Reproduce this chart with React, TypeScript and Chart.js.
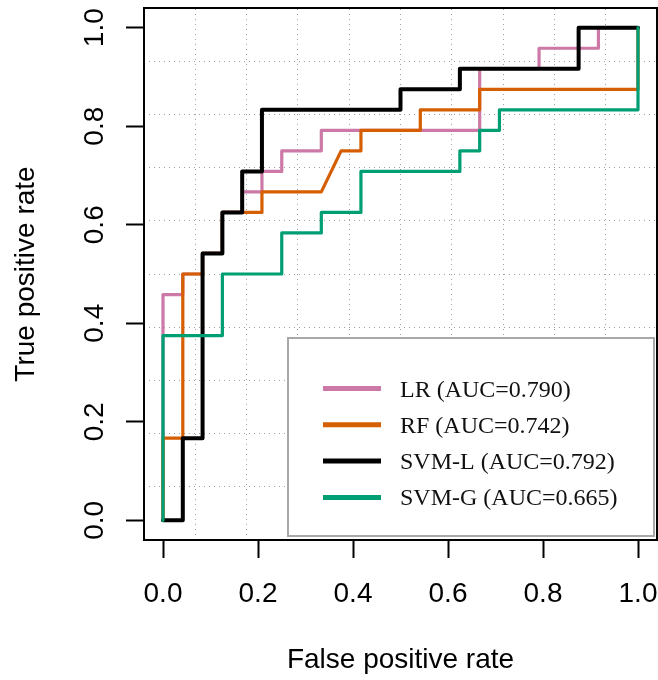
import React, { useEffect, useRef } from 'react';
import { Chart, registerables } from 'chart.js';

Chart.register(...registerables);

// ---- data ----
const tickValues = [0, 0.2, 0.4, 0.6, 0.8, 1.0];
const tickLabels = ['0.0', '0.2', '0.4', '0.6', '0.8', '1.0'];
const gridValues = [0.068, 0.176, 0.284, 0.392, 0.5, 0.608, 0.716, 0.824, 0.932];
const axisMin = -0.04;
const axisMax = 1.04;
const xTitle = 'False positive rate';
const yTitle = 'True positive rate';

const seriesNames = ['LR (AUC=0.790)', 'RF (AUC=0.742)', 'SVM-L (AUC=0.792)', 'SVM-G (AUC=0.665)'];
const seriesColors = ['#CC79A7', '#D55E00', '#000000', '#009E73'];

const lrFpr = [0, 0, 0.0417, 0.0417, 0.0833, 0.0833, 0.125, 0.125, 0.1667, 0.1667, 0.2083, 0.2083, 0.25, 0.25, 0.3333, 0.3333, 0.6667, 0.6667, 0.7917, 0.7917, 0.9167, 0.9167, 1];
const lrTpr = [0, 0.4583, 0.4583, 0.5, 0.5, 0.5417, 0.5417, 0.625, 0.625, 0.6667, 0.6667, 0.7083, 0.7083, 0.75, 0.75, 0.7917, 0.7917, 0.9167, 0.9167, 0.9583, 0.9583, 1, 1];

const rfFpr = [0, 0, 0.0417, 0.0417, 0.0833, 0.0833, 0.125, 0.125, 0.2083, 0.2083, 0.3333, 0.375, 0.4167, 0.4167, 0.5417, 0.5417, 0.6667, 0.6667, 1, 1];
const rfTpr = [0, 0.1667, 0.1667, 0.5, 0.5, 0.5417, 0.5417, 0.625, 0.625, 0.6667, 0.6667, 0.75, 0.75, 0.7917, 0.7917, 0.8333, 0.8333, 0.875, 0.875, 1];

const svmLFpr = [0, 0.0417, 0.0417, 0.0833, 0.0833, 0.125, 0.125, 0.1667, 0.1667, 0.2083, 0.2083, 0.5, 0.5, 0.625, 0.625, 0.875, 0.875, 1];
const svmLTpr = [0, 0, 0.1667, 0.1667, 0.5417, 0.5417, 0.625, 0.625, 0.7083, 0.7083, 0.8333, 0.8333, 0.875, 0.875, 0.9167, 0.9167, 1, 1];

const svmGFpr = [0, 0, 0.125, 0.125, 0.25, 0.25, 0.3333, 0.3333, 0.4167, 0.4167, 0.625, 0.625, 0.6667, 0.6667, 0.7083, 0.7083, 1, 1];
const svmGTpr = [0, 0.375, 0.375, 0.5, 0.5, 0.5833, 0.5833, 0.625, 0.625, 0.7083, 0.7083, 0.75, 0.75, 0.7917, 0.7917, 0.8333, 0.8333, 1];

const seriesFpr = [lrFpr, rfFpr, svmLFpr, svmGFpr];
const seriesTpr = [lrTpr, rfTpr, svmLTpr, svmGTpr];
const seriesWidths = [3.2, 3.2, 4, 3.2];

const SANS = '"Liberation Sans", Arial, Helvetica, sans-serif';
const SERIF = '"Liberation Serif", "Times New Roman", serif';

const decorPlugin = {
  id: 'rocDecor',
  afterDraw(chart: any) {
    const ctx: CanvasRenderingContext2D = chart.ctx;
    const ca = chart.chartArea;
    const xs = chart.scales.x;
    const ys = chart.scales.y;
    ctx.save();
    ctx.fillStyle = '#000';
    ctx.font = `28px ${SANS}`;
    ctx.textAlign = 'center';
    ctx.textBaseline = 'alphabetic';
    tickValues.forEach((v, i) => {
      ctx.fillText(tickLabels[i], xs.getPixelForValue(v), ca.bottom + 62);
    });
    tickValues.forEach((v, i) => {
      ctx.save();
      ctx.translate(ca.left - 41, ys.getPixelForValue(v));
      ctx.rotate(-Math.PI / 2);
      ctx.fillText(tickLabels[i], 0, 0);
      ctx.restore();
    });
    ctx.fillText(xTitle, (ca.left + ca.right) / 2, ca.bottom + 128);
    ctx.save();
    ctx.translate(ca.left - 110, (ca.top + ca.bottom) / 2);
    ctx.rotate(-Math.PI / 2);
    ctx.fillText(yTitle, 0, 0);
    ctx.restore();

    // legend (R style, bottom right)
    const bw = 366;
    const bh = 198;
    const bx = ca.right - 3 - bw;
    const by = ca.bottom - 4 - bh;
    ctx.fillStyle = '#fff';
    ctx.fillRect(bx, by, bw, bh);
    ctx.strokeStyle = '#a8a8a8';
    ctx.lineWidth = 2;
    ctx.strokeRect(bx, by, bw, bh);
    ctx.font = `24px ${SERIF}`;
    ctx.textAlign = 'left';
    seriesNames.forEach((name, i) => {
      const ry = by + 50.5 + i * 36.3;
      ctx.strokeStyle = seriesColors[i];
      ctx.lineWidth = 5;
      ctx.lineCap = 'butt';
      ctx.beginPath();
      ctx.moveTo(bx + 35, ry);
      ctx.lineTo(bx + 93, ry);
      ctx.stroke();
      ctx.fillStyle = '#111';
      ctx.fillText(name, bx + 112, ry + 8);
    });
    ctx.restore();
  },
};

const setTicks = (vals: number[]) => (scale: any) => {
  scale.ticks = vals.map((v) => ({ value: v }));
};

export default function App() {
  const ref = useRef<HTMLCanvasElement>(null);
  useEffect(() => {
    if (!ref.current) return;
    const datasets = seriesNames.map((name, i) => ({
      label: name,
      data: seriesFpr[i].map((x, j) => ({ x, y: seriesTpr[i][j] })),
      borderColor: seriesColors[i],
      backgroundColor: seriesColors[i],
      borderWidth: seriesWidths[i],
      showLine: true,
      pointRadius: 0,
      pointHoverRadius: 0,
      fill: false,
      tension: 0,
      borderCapStyle: 'round' as const,
      borderJoinStyle: 'round' as const,
      order: seriesNames.length - 1 - i,
    }));
    const chart = new Chart(ref.current, {
      type: 'scatter',
      data: { datasets },
      options: {
        animation: false,
        responsive: false,
        devicePixelRatio: 1,
        layout: { padding: { top: 8, right: 1, left: 0, bottom: 0 } },
        plugins: { legend: { display: false }, tooltip: { enabled: false } },
        scales: {
          x: {
            type: 'linear',
            position: 'bottom',
            min: axisMin,
            max: axisMax,
            afterBuildTicks: setTicks(tickValues),
            afterFit: (s: any) => { s.height = 140; },
            ticks: { display: false },
            grid: { drawOnChartArea: false, drawTicks: true, tickLength: 18, tickColor: '#000', tickWidth: 2 },
            border: { display: true, color: '#000', width: 2 },
          },
          y: {
            type: 'linear',
            position: 'left',
            min: axisMin,
            max: axisMax,
            afterBuildTicks: setTicks(tickValues),
            afterFit: (s: any) => { s.width = 144; },
            ticks: { display: false },
            grid: { drawOnChartArea: false, drawTicks: true, tickLength: 18, tickColor: '#000', tickWidth: 2 },
            border: { display: true, color: '#000', width: 2 },
          },
          xGrid: {
            type: 'linear',
            position: 'top',
            min: axisMin,
            max: axisMax,
            afterBuildTicks: setTicks(gridValues),
            afterFit: (s: any) => { s.height = 0; },
            ticks: { display: false },
            grid: { drawOnChartArea: true, drawTicks: false, color: '#a0a0a0', lineWidth: 1 },
            border: { display: true, color: '#000', width: 2, dash: [1, 4] },
          },
          yGrid: {
            type: 'linear',
            position: 'right',
            min: axisMin,
            max: axisMax,
            afterBuildTicks: setTicks(gridValues),
            afterFit: (s: any) => { s.width = 0; },
            ticks: { display: false },
            grid: { drawOnChartArea: true, drawTicks: false, color: '#a0a0a0', lineWidth: 1 },
            border: { display: true, color: '#000', width: 2, dash: [1, 4] },
          },
        },
      },
      plugins: [decorPlugin],
    } as any);
    return () => chart.destroy();
  }, []);
  return (
    <div style={{ position: 'absolute', left: 0, top: 0, width: 658, height: 680, background: '#fff' }}>
      <canvas ref={ref} width={658} height={680} style={{ display: 'block', width: 658, height: 680 }} />
    </div>
  );
}
